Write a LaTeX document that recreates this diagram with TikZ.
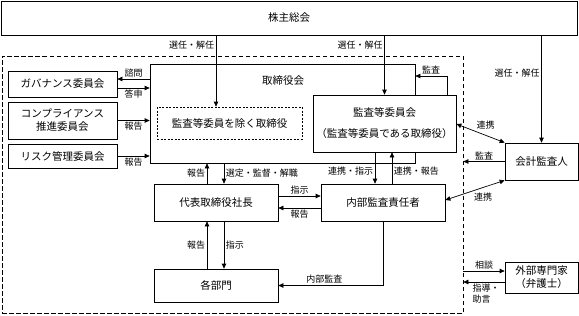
\documentclass[tikz,border=0pt]{standalone}
\usepackage{fontspec}
\setmainfont{Noto Sans CJK JP}
\usetikzlibrary{arrows.meta}

\begin{document}
\begin{tikzpicture}[x=1pt, y=-1pt, line width=0.7pt,
  box/.style={draw, inner sep=0pt, font=\fontsize{10.5}{13}\selectfont, align=center},
  lbl/.style={font=\fontsize{9}{11}\selectfont, inner sep=1.5pt},
  arr/.style={-{Triangle[length=5pt, width=4.5pt]}},
  darr/.style={{Triangle[length=5pt, width=4.5pt]}-{Triangle[length=5pt, width=4.5pt]}}]
  \useasboundingbox (0,0) rectangle (579,316);

  % boxes
  \node[box, minimum width=576pt, minimum height=34pt] (soukai) at (289,18) {株主総会};
  \node[draw, dash pattern=on 4.5pt off 2.5pt, minimum width=461pt, minimum height=257pt] (grp) at (232.5,184.5) {};
  \node[box, minimum width=265pt, minimum height=99pt] (board) at (282.5,113.5) {};
  \node[lbl, font=\fontsize{10.5}{13}\selectfont] (boardlbl) at (283,81) {取締役会};
  \node[box, dash pattern=on 2pt off 1.5pt, minimum width=145pt, minimum height=32pt] (exdir) at (229.5,123) {監査等委員を除く取締役};
  \node[box, fill=white, font=\fontsize{10.5}{21}\selectfont, minimum width=143pt, minimum height=57pt] (acbd) at (384.5,123.5) {監査等委員会\\（監査等委員である取締役）};
  \node[box, minimum width=109pt, minimum height=26pt] (gov) at (62.5,84) {ガバナンス委員会};
  \node[box, minimum width=109pt, minimum height=37pt] (comp) at (62.5,120.5) {コンプライアンス\\推進委員会};
  \node[box, minimum width=109pt, minimum height=24pt] (risk) at (62.5,156) {リスク管理委員会};
  \node[box, minimum width=124pt, minimum height=37pt] (ceo) at (216,202.5) {代表取締役社長};
  \node[box, minimum width=124pt, minimum height=33pt] (dept) at (216,285.5) {各部門};
  \node[box, minimum width=124pt, minimum height=37pt] (ia) at (383,202.5) {内部監査責任者};
  \node[box, minimum width=73pt, minimum height=37pt] (auditor) at (541.5,161.5) {会計監査人};
  \node[box, minimum width=73pt, minimum height=31pt] (expert) at (541.5,277.5) {外部専門家\\（弁護士）};

  % shareholders
  \draw[arr] (soukai.south -| 216,0) -- (exdir.north -| 216,0) node[lbl, pos=0.14, left] {選任・解任};
  \draw[arr] (soukai.south -| acbd.north) -- (acbd.north) node[lbl, pos=0.17, left] {選任・解任};
  \draw[arr] (soukai.south -| auditor.north) -- (auditor.north) node[lbl, pos=0.35, left] {選任・解任};

  % committees
  \draw[arr] (board.west |- 0,79) -- (gov.east |- 0,79) node[lbl, midway, above] {諮問};
  \draw[arr] (gov.east |- 0,88) -- (board.west |- 0,88) node[lbl, midway, below] {答申};
  \draw[arr] (comp.east) -- (comp.east -| board.west) node[lbl, midway, below] {報告};
  \draw[arr] (risk.east) -- (risk.east -| board.west) node[lbl, midway, below] {報告};

  % board, president, departments
  \draw[arr] (ceo.north -| 207,0) -- (board.south -| 207,0) node[lbl, midway, left] {報告};
  \draw[arr] (board.south -| 224,0) -- (ceo.north -| 224,0) node[lbl, midway, right] {選定・監督・解職};
  \draw[arr] (dept.north -| 207,0) -- (ceo.south -| 207,0) node[lbl, midway, left] {報告};
  \draw[arr] (ceo.south -| 224,0) -- (dept.north -| 224,0) node[lbl, midway, right] {指示};
  \draw[arr] (ceo.east |- 0,196) -- (ia.west |- 0,196) node[lbl, midway, above] {指示};
  \draw[arr] (ia.west |- 0,208) -- (ceo.east |- 0,208) node[lbl, midway, below] {報告};

  % audit committee and internal audit
  \draw[arr] (acbd.north -| 447,0) |- (board.east |- 0,76) node[lbl, pos=0.75, above] {監査};
  \draw[arr] (acbd.south -| 375,0) -- (ia.north -| 375,0) node[lbl, pos=0.6, left] {連携・指示};
  \draw[arr] (ia.north -| 392,0) -- (acbd.south -| 392,0) node[lbl, pos=0.4, right] {連携・報告};
  \draw[arr] (ia.south) |- (dept.east) node[lbl, pos=0.78, above] {内部監査};

  % outside
  \draw[darr] (acbd.east |- 0,124) -- (auditor.north west) node[lbl, midway, above, xshift=5pt, yshift=2pt] {連携};
  \draw[arr] (auditor.west) -- (auditor.west -| grp.east) node[lbl, midway, above] {監査};
  \draw[darr] (auditor.south west) -- (ia.east |- 0,200) node[lbl, midway, below, xshift=8pt, yshift=-1pt] {連携};
  \draw[arr] (grp.east |- 0,271) -- (expert.west |- 0,271) node[lbl, midway, above] {相談};
  \draw[arr] (expert.west |- 0,282) -- (grp.east |- 0,282) node[lbl, midway, below, align=left, xshift=2pt] {指導・\\助言};
\end{tikzpicture}
\end{document}
